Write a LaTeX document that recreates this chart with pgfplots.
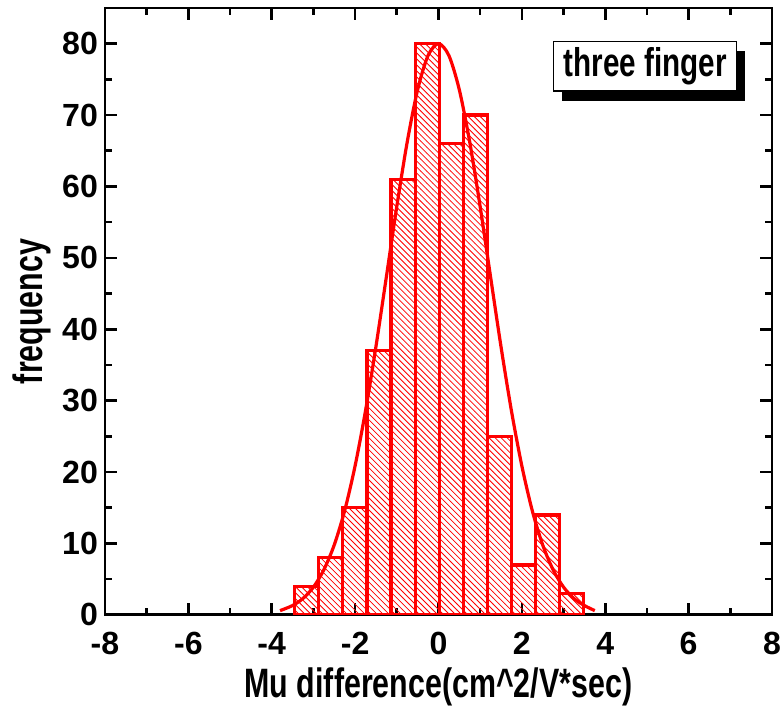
\documentclass[border=0pt]{standalone}
\usepackage{fontspec}
\setmainfont{Liberation Sans}
\newfontfamily\condfont{Liberation Sans}[FakeStretch=0.74]
\usepackage{pgfplots}
\pgfplotsset{compat=1.18}
\usetikzlibrary{patterns,shadows}
\begin{document}
\begin{tikzpicture}
\begin{axis}[
  scale only axis, width=333pt, height=303pt,
  xmin=-8, xmax=8, ymin=0, ymax=85,
  xtick={-8,-6,...,8}, ytick={0,10,...,80},
  minor x tick num=1, minor y tick num=1,
  tick align=inside, major tick length=6pt, minor tick length=3.5pt,
  axis line style={line width=1.4pt},
  every tick/.style={line width=1.3pt, black},
  ticklabel style={font=\fontsize{16}{18}\selectfont\bfseries},
  xticklabel style={yshift=-5pt},
  /pgf/number format/assume math mode=true,
  xlabel={\condfont\bfseries Mu difference(cm\textasciicircum 2/V*sec)},
  ylabel={\condfont\bfseries frequency},
  label style={font=\fontsize{20.5}{24}\selectfont},
  xlabel style={at={(axis description cs:0.5,-0.119)}, anchor=center},
  ylabel style={at={(axis description cs:-0.110,0.5)}, anchor=center},
]
\addplot[ybar interval, draw=red, line width=1.6pt, pattern=north west lines, pattern color=red]
coordinates {(-3.450,4) (-2.872,8) (-2.294,15) (-1.716,37) (-1.138,61) (-0.560,80)
 (0.018,66) (0.596,70) (1.174,25) (1.752,7) (2.330,14) (2.908,3) (3.486,3)};
\addplot[red, line width=1.6pt, smooth] coordinates {
(-3.8,0.6) (-3.5,1.31) (-3.25,2.30) (-3.0,3.89) (-2.75,6.31) (-2.5,9.80) (-2.25,14.60)
(-2.0,20.87) (-1.75,28.59) (-1.5,37.57) (-1.25,47.33) (-1.0,57.18) (-0.75,66.22)
(-0.5,73.55) (-0.25,78.34) (0,80) (0.25,78.34) (0.5,73.55) (0.75,66.22) (1.0,57.18)
(1.25,47.33) (1.5,37.57) (1.75,28.59) (2.0,20.87) (2.25,14.60) (2.5,9.80) (2.75,6.31)
(3.0,3.89) (3.25,2.30) (3.5,1.31) (3.75,0.6)};
\node[draw=black, line width=0.6pt, fill=white, inner xsep=5pt, inner ysep=3pt,
  anchor=north east,
  drop shadow={shadow xshift=4pt, shadow yshift=-5pt, fill=black, opacity=1},
  font=\fontsize{20}{24}\selectfont\condfont\bfseries]
  at (axis cs:7.17,80.4) {three finger};
\end{axis}
\pgfresetboundingbox
\path ([xshift=-52.4pt,yshift=-48.4pt]current axis.south west)
  rectangle ([xshift=6pt,yshift=4pt]current axis.north east);
\end{tikzpicture}
\end{document}
